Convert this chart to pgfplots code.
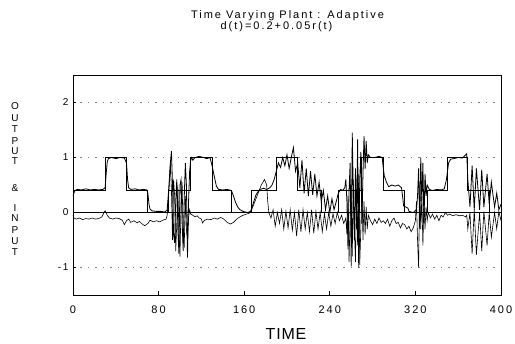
\documentclass[border=0pt]{standalone}
\usepackage{fontspec}
\setmainfont{Liberation Sans}
\newfontfamily\pf[LetterSpace=18]{Liberation Sans}
\newfontfamily\pfs[LetterSpace=5]{Liberation Sans}
\usepackage{pgfplots}
\pgfplotsset{compat=1.18}
\begin{document}
\begin{tikzpicture}[x=1pt,y=1pt]
\useasboundingbox (-73,-49) rectangle (442,295);
\begin{axis}[
  at={(0,0)}, anchor=south west, scale only axis,
  width=428pt, height=220pt,
  xmin=0, xmax=400, ymin=-1.5, ymax=2.5,
  xtick={0,80,160,240,320,400},
  ytick={-1,0,1,2},
  yticklabels={{-\,1},0,1,2},
  xticklabels={0,80,160,240,320,400},
  tick align=inside, major tick length=3.5pt,
  xtick pos=lower, ytick pos=left,
  tick style={black, line width=0.6pt},
  axis line style={line width=0.8pt},
  xticklabel style={font=\pf\fontsize{11}{12}\selectfont, yshift=-7pt},
  yticklabel style={font=\pf\fontsize{10}{12}\selectfont, xshift=-1pt},
  ymajorgrids=true,
  major grid style={gray, line width=0.5pt, dash pattern=on 1.5pt off 6pt},
  clip=true,
]
% zero line
\addplot[black, line width=0.9pt] coordinates {(0,0) (400,0)};
% reference r(t)
\addplot[black, line width=1.1pt, const plot] coordinates {
(0,0.4)(30,1)(50,0.4)(70,0)(89,0.4)(110,1)(130,0.4)(148,0)(167,0.4)(190,1)(210,0.4)(232,0)(248,0.4)(270,1)(290,0.4)(310,0)(331,0.4)(350,1)(369,0.4)(389,0)(400,0)};
% output y(t)
\addplot[black, line width=0.8pt] coordinates {
(0,0.3)(1,0.36)(2,0.4)(4,0.42)(8,0.41)(12,0.43)(16,0.41)(20,0.42)(24,0.41)(28,0.42)(30,0.45)(31,0.7)(32,0.92)(33,0.98)(36,1.0)(40,0.98)(44,1.0)(48,0.99)(50,0.9)(51,0.6)(52,0.45)(54,0.42)(58,0.43)(62,0.41)(66,0.42)(69,0.41)(70,0.35)(71,0.15)(72,0.06)(74,0.03)(78,0.02)(82,0.02)(86,0.01)(88,0.05)
(89,0.3)(90,0.6)(91,0.9)(92,1.12)(93,0.5)(94,-0.4)(95,-0.55)(96,0.2)(97,0.6)(98,-0.3)(99,-0.75)(100,0.5)(101,0.6)(102,-0.2)(103,-0.7)(104,0.3)(105,0.9)(106,0.5)(107,-0.82)(108,0.2)(109,0.75)(110,0.95)(111,1.0)(112,0.95)(114,1.0)(118,1.02)(122,1.0)(125,0.98)(128,1.0)(130,0.85)(132,0.66)(134,0.48)(136,0.42)(140,0.41)(144,0.42)(148,0.4)(150,0.3)(152,0.18)(154,0.1)(156,0.05)(159,0.02)(163,0.0)(166,0.02)
(167,0.08)(169,0.2)(171,0.32)(173,0.38)(175,0.42)(178,0.44)(181,0.42)(184,0.45)(186,0.5)(188,0.6)(190,0.75)(192,0.9)(194,0.82)(196,1.0)(198,0.85)(200,1.05)(202,0.8)(204,1.0)(206,1.18)(208,0.75)(210,0.9)(212,0.45)(214,0.95)(216,0.35)(218,0.8)(220,0.3)(222,0.75)(224,0.32)(226,0.7)(228,0.3)(230,0.55)(232,0.2)(234,0.4)(236,0.05)(238,0.3)(240,0.0)(242,0.25)(244,0.05)(246,0.2)(248,0.35)(250,0.42)(252,0.4)(254,0.45)
(255,0.6)(256,0.2)(257,-0.67)(258,0.4)(259,0.9)(260,-0.98)(261,1.45)(262,0.3)(263,-0.5)(264,0.8)(265,-0.3)(266,1.33)(267,-1.0)(268,0.6)(269,1.1)(270,-0.2)(271,0.7)(272,1.39)(273,0.8)(274,1.3)(275,0.9)(276,1.05)(278,1.0)(282,1.0)(286,1.02)(289,1.0)(290,0.8)(291,0.66)(293,0.55)(295,0.47)(298,0.5)(301,0.48)(304,0.5)(307,0.45)(308,0.3)(309,0.12)(311,0.1)(313,0.08)(314,0.02)(318,0.0)(321,0.05)
(322,0.3)(323,0.8)(324,-0.3)(325,1.0)(326,0.2)(327,0.9)(328,-0.2)(329,0.7)(330,0.3)(331,0.5)(333,0.42)(336,0.4)(340,0.42)(344,0.41)(347,0.43)(349,0.6)(351,0.9)(353,0.97)(356,0.98)(360,1.0)(364,0.99)(368,1.07)
(369,0.6)(371,0.1)(373,0.85)(375,0.05)(377,0.8)(380,0.05)(382,0.78)(384,0.1)(387,0.7)(389,0.15)(391,0.55)(394,0.1)(396,0.35)(398,0.05)(400,0.15)};
% input u(t)
\addplot[black, line width=0.6pt] coordinates {
(0,-0.05)(1,-0.1)(3,-0.12)(6,-0.1)(9,-0.13)(12,-0.11)(15,-0.12)(18,-0.1)(21,-0.12)(24,-0.11)(27,-0.08)(29,0.0)(30,0.03)(32,-0.05)(34,-0.1)(37,-0.12)(40,-0.1)(43,-0.11)(46,-0.14)(48,-0.22)(50,-0.15)(52,-0.12)(54,-0.18)(57,-0.15)(60,-0.19)(62,-0.16)(64,-0.2)(67,-0.24)(70,-0.2)(72,-0.14)(75,-0.17)(78,-0.15)(81,-0.17)(84,-0.14)(87,-0.12)(88,-0.05)
(89,0.2)(90,0.5)(91,0.9)(92,0.4)(93,-0.5)(94,0.6)(95,0.3)(96,-0.7)(97,-0.2)(98,0.5)(99,-0.4)(100,-0.8)(101,0.2)(102,0.55)(103,-0.5)(104,-0.6)(105,0.3)(106,-0.3)(107,-0.5)(108,-0.1)(109,0.05)(110,-0.03)
(112,-0.05)(114,-0.08)(116,-0.06)(118,-0.1)(120,-0.12)(121,-0.19)(123,-0.14)(126,-0.12)(129,-0.13)(132,-0.1)(135,-0.12)(138,-0.09)(141,-0.12)(144,-0.18)(147,-0.21)(150,-0.18)(153,-0.12)(156,-0.08)(159,-0.05)(162,-0.03)(165,-0.01)(167,0.05)(170,0.2)(173,0.35)(176,0.5)(179,0.6)(181,0.5)(182,0.2)(183,0.0)
(185,-0.1)(187,0.05)(189,-0.25)(191,0.0)(193,-0.2)(195,0.05)(197,-0.3)(199,0.02)(201,-0.28)(203,0.05)(205,-0.32)(207,0.0)(209,-0.43)(211,0.05)(213,-0.35)(215,0.05)(217,-0.3)(219,0.0)(221,-0.35)(223,0.05)(225,-0.38)(227,0.02)(229,-0.3)(231,0.0)(233,-0.35)(235,-0.02)(237,-0.3)(239,0.0)(241,-0.25)(243,-0.02)(245,-0.2)(247,0.0)(249,-0.15)(251,-0.05)(253,-0.2)(255,-0.1)
(256,-0.4)(257,0.3)(258,-0.9)(259,-0.1)(260,0.5)(261,-0.8)(262,0.6)(263,-0.3)(264,-0.9)(265,0.4)(266,-0.6)(267,0.7)(268,-0.95)(269,-0.3)(270,0.5)(271,-0.5)(272,0.2)(273,-0.4)(274,0.1)(275,-0.3)(276,-0.05)
(278,-0.15)(280,-0.22)(282,-0.12)(284,-0.2)(286,-0.1)(288,-0.18)(290,-0.15)(292,-0.2)(294,-0.12)(296,-0.25)(298,-0.15)(300,-0.1)(302,-0.2)(304,-0.18)(306,-0.28)(308,-0.2)(310,-0.22)(312,-0.3)(314,-0.25)(316,-0.35)(318,-0.28)(320,-0.15)
(321,0.2)(322,-0.5)(323,-1.0)(324,0.5)(325,-0.3)(326,0.3)(327,-0.6)(328,0.2)(329,-0.3)(330,0.1)(331,-0.15)(332,0.0)
(334,-0.1)(336,-0.03)(338,-0.12)(340,-0.05)(342,-0.15)(344,-0.05)(346,-0.08)(348,0.0)(350,-0.05)(352,-0.03)(355,-0.06)(358,-0.04)(361,-0.06)(364,-0.05)(367,-0.08)(368,-0.05)
(369,-0.3)(371,0.0)(373,-0.75)(375,0.05)(377,-0.77)(380,0.0)(382,-0.7)(384,0.02)(387,-0.6)(389,0.0)(391,-0.45)(394,0.0)(396,-0.3)(398,0.02)(400,-0.15)};
\end{axis}
% titles
\node[anchor=base, inner sep=0, font=\pf\fontsize{11}{13}\selectfont] at (214.5,276) {Time Varying Plant : Adaptive};
\node[anchor=base, inner sep=0, font=\pf\fontsize{11}{13}\selectfont] at (203.5,265.5) {d(t)=0.2+0.05r(t)};
\node[anchor=base, inner sep=0, font=\pfs\fontsize{16}{18}\selectfont] at (213,-45) {TIME};
% y label letters
\foreach \l/\py in {O/106,U/118,T/129,P/141,U/151,T/161,\&/188,I/208.5,N/218.5,P/230,U/241.5,T/252.5}
  \node[anchor=center, inner sep=0, font=\fontsize{10}{11}\selectfont] at (-58,{295-\py}) {\l};
\end{tikzpicture}
\end{document}
